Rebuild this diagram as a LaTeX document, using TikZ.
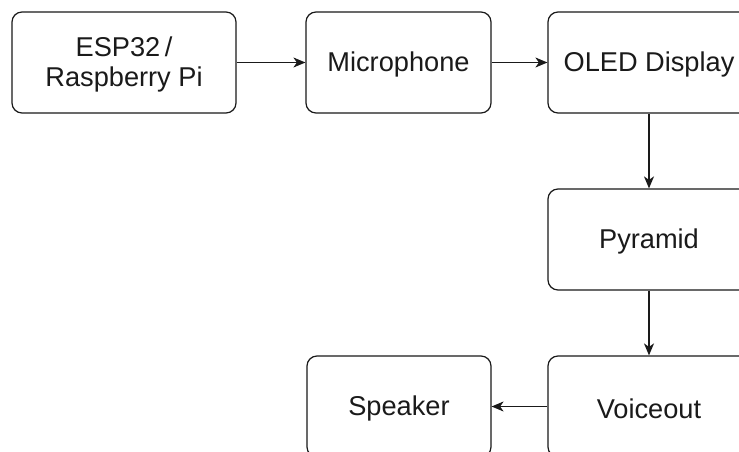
\documentclass[tikz,border=0pt]{standalone}
\usepackage{fontspec}
\setmainfont{Liberation Sans}
\usetikzlibrary{arrows.meta}
\definecolor{ink}{HTML}{1A1A1A}
\newcommand{\lowr}{\rule{0pt}{24.5pt}}
\tikzset{
  blk/.style={draw=ink, line width=1.2pt, rounded corners=10pt, fill=white,
    inner sep=0pt, minimum height=101pt, align=center, text=ink,
    font=\fontsize{27.2}{30}\selectfont},
  conn/.style={draw=ink, line width=1.4pt, -{Stealth[length=12pt,width=10pt,inset=3.5pt]}}
}
\begin{document}
\begin{tikzpicture}[x=1pt,y=1pt]
\useasboundingbox (0,0) rectangle (739,-452);
\clip (0,0) rectangle (739,-452);
\fill[white] (0,0) rectangle (739,-452);
\node[blk, minimum width=224pt] (esp) at (124,-62.5) {\lowr ESP32\,/\\Raspberry Pi};
\node[blk, minimum width=185pt] (mic) at (398.5,-62.5) {\lowr Microphone};
\node[blk, minimum width=202pt] (oled) at (649,-62.5) {\lowr OLED Display};
\node[blk, minimum width=202pt] (pyr) at (649,-239.5) {\lowr Pyramid};
\node[blk, minimum width=202pt] (voice) at (649,-406.5) {\lowr Voiceout};
\node[blk, minimum width=184pt] (spk) at (399,-406.5) {\lowr Speaker};
\draw[conn] (esp) -- (mic);
\draw[conn] (mic) -- (oled);
\draw[conn] (oled) -- (pyr);
\draw[conn] (pyr) -- (voice);
\draw[conn] (voice) -- (spk);
\end{tikzpicture}
\end{document}
